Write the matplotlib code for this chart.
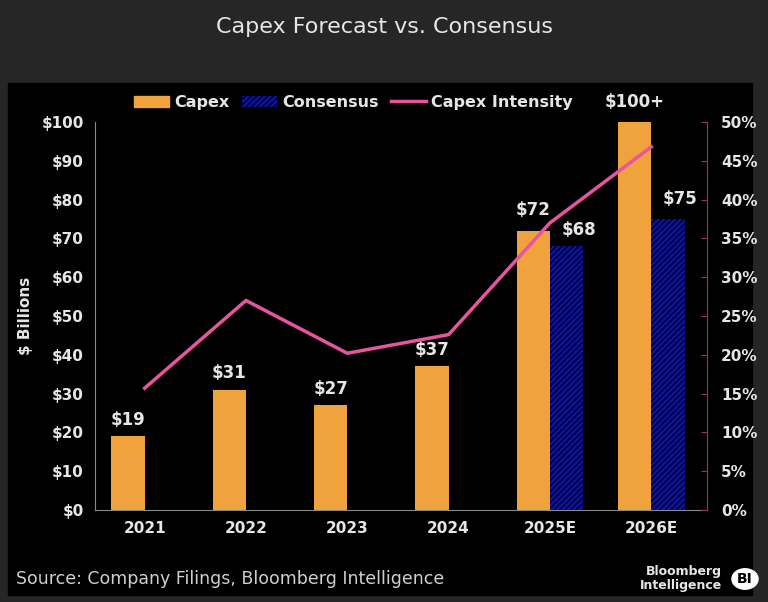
import matplotlib
matplotlib.use("Agg")
import matplotlib.pyplot as plt
import matplotlib.patches as mpatches
import numpy as np

years = ["2021", "2022", "2023", "2024", "2025E", "2026E"]
capex = [19, 31, 27, 37, 72, 100]
capex_labels = ["$19", "$31", "$27", "$37", "$72", "$100+"]
consensus = [0, 0, 0, 0, 68, 75]
consensus_labels = ["", "", "", "", "$68", "$75"]
intensity = [15.7, 27.0, 20.2, 22.6, 37.0, 46.8]

ORANGE = "#f0a33c"
NAVY = "#00005c"
HATCH = "#1020a0"
PINK = "#e8559e"
TXT = "#e6e6e6"

fig = plt.figure(figsize=(7.68, 6.02), dpi=100, facecolor="#262626")
fig.text(0.5, 0.955, "Capex Forecast vs. Consensus", ha="center", va="center",
         color=TXT, fontsize=16)
fig.patches.append(mpatches.Rectangle((8 / 768, 7 / 602), 744 / 768, 512 / 602,
                                      transform=fig.transFigure, color="black", zorder=-10))

ax = fig.add_axes([95 / 768, 92 / 602, 612 / 768, 388 / 602])
ax.set_facecolor("black")
x = np.arange(len(years))
w = 0.33
ax.bar(x - w / 2, capex, w, color=ORANGE, label="Capex", zorder=2)
ax.bar(x[4:] + w / 2, consensus[4:], w, color=NAVY, hatch="//////",
       edgecolor=HATCH, linewidth=0, label="Consensus", zorder=2)
for i in range(len(years)):
    dy = 4.2 if i < 4 else 5.2
    ax.text(x[i] - w / 2, capex[i] + dy, capex_labels[i], ha="center", va="center",
            color=TXT, fontsize=12, fontweight="bold", clip_on=False)
    if consensus_labels[i]:
        cdy = 4.2 if i == 4 else 5.2
        ax.text(x[i] + w / 2 + 0.12, consensus[i] + cdy, consensus_labels[i], ha="center",
                va="center", color=TXT, fontsize=12, fontweight="bold")
ax.set_xlim(-0.49, 5.55)
ax.set_ylim(0, 100)
ax.set_xticks(x)
ax.set_xticklabels(years)
ax.set_yticks(range(0, 101, 10))
ax.set_yticklabels([f"${v}" for v in range(0, 101, 10)])
ax.tick_params(colors=TXT, labelsize=11, length=0, pad=8)
for lbl in ax.get_xticklabels() + ax.get_yticklabels():
    lbl.set_fontweight("bold")
ax.set_ylabel("$ Billions", color=TXT, fontsize=11, fontweight="bold", labelpad=6)
for s in ["top", "right"]:
    ax.spines[s].set_visible(False)
ax.spines["left"].set_color("#888888")
ax.spines["bottom"].set_color("#888888")

ax2 = ax.twinx()
line, = ax2.plot(x, intensity, color=PINK, lw=2.5, label="Capex Intensity", zorder=3)
ax2.set_ylim(0, 50)
ax2.set_yticks(range(0, 51, 5))
ax2.set_yticklabels([f"{v}%" for v in range(0, 51, 5)])
ax2.tick_params(axis="y", colors="#a03070", labelcolor=TXT, labelsize=11,
                length=4, direction="in", pad=10)
for lbl in ax2.get_yticklabels():
    lbl.set_fontweight("bold")
for s in ["top", "left", "bottom"]:
    ax2.spines[s].set_visible(False)
ax2.spines["right"].set_color("#a03070")

handles = [mpatches.Patch(color=ORANGE), mpatches.Patch(facecolor=NAVY, hatch="//////",
           edgecolor=HATCH, linewidth=0), line]
leg = fig.legend(handles, ["Capex", "Consensus", "Capex Intensity"], loc="center",
                 bbox_to_anchor=(0.46, 0.83), ncol=3, frameon=False, fontsize=11.5,
                 handlelength=2.2, columnspacing=0.8, handletextpad=0.3)
for t in leg.get_texts():
    t.set_color(TXT)
    t.set_fontweight("bold")

fig.text(16 / 768, 23 / 602, "Source: Company Filings, Bloomberg Intelligence",
         color="#cfcfcf", fontsize=12.5, va="center")
fig.text(722 / 768, 23 / 602, "Bloomberg\nIntelligence", color=TXT, fontsize=9,
         ha="right", va="center", fontweight="bold", linespacing=1.1)
fig.patches.append(mpatches.Circle((745 / 768, 23 / 602), 0.017, color="white",
                                   transform=fig.transFigure))
fig.text(745 / 768, 23 / 602, "BI", color="black", fontsize=10, ha="center",
         va="center", fontweight="bold")

fig.savefig("out.png", dpi=100, facecolor=fig.get_facecolor())
